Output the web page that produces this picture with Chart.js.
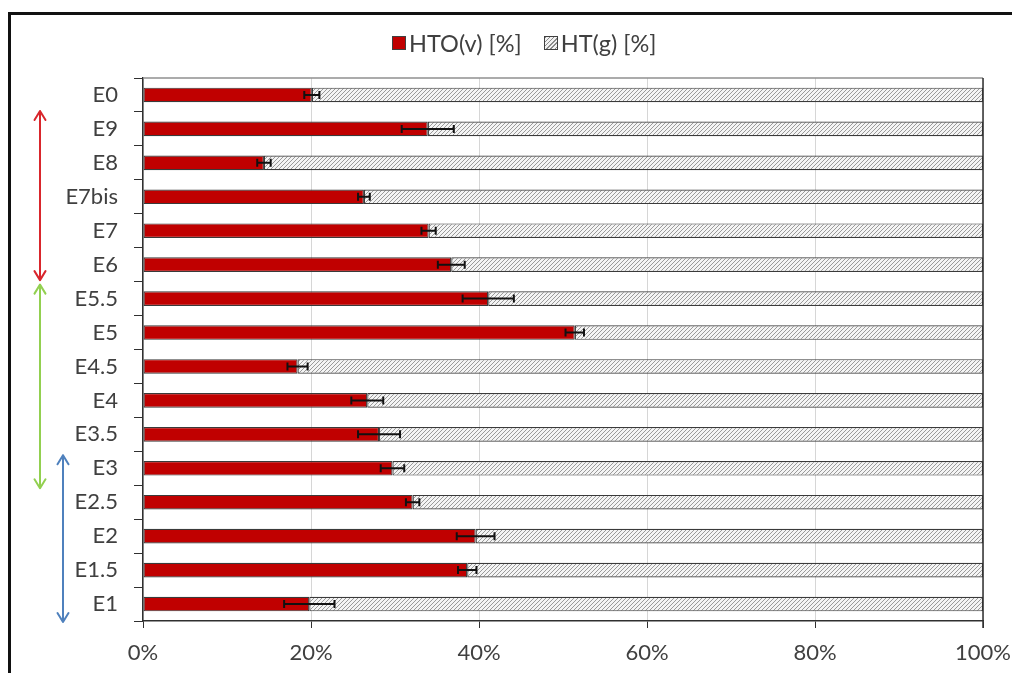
<!DOCTYPE html>
<html>
<head>
<meta charset="utf-8">
<script src="https://cdn.jsdelivr.net/npm/chart.js@4.4.1/dist/chart.umd.min.js"></script>
<style>
  html, body { margin: 0; padding: 0; background: #fff; overflow: hidden; }
  #wrap { position: relative; width: 1012px; height: 673px; overflow: hidden; }
  #frame { position: absolute; left: 8px; top: 12px; width: 2000px; height: 2000px;
           border-left: 3px solid #111; border-top: 3px solid #111; pointer-events: none; }
  #legend { position: absolute; left: 392px; top: 29px; display: flex; align-items: center;
            font-family: Lato, "DejaVu Sans", sans-serif; font-size: 23.5px; color: #404040; white-space: nowrap; }
  .sw { width: 14px; height: 14px; box-sizing: border-box; border: 1px solid #404040; margin-right: 3px; }
  .sw.hto { background: #C00000; }
  .sw.ht { background: repeating-linear-gradient(135deg, #8a8a8a 0 1px, #f2f2f2 1px 3px); }
  .gap { width: 22px; }
</style>
</head>
<body>
<div id="wrap">
  <canvas id="c" width="1012" height="673"></canvas>
  <div id="legend">
    <div class="sw hto"></div><span>HTO(v) [%]</span>
    <div class="gap"></div>
    <div class="sw ht"></div><span>HT(g) [%]</span>
  </div>
  <div id="frame"></div>
</div>
<script>
// Experiments, listed top to bottom
const categories = ['E0', 'E9', 'E8', 'E7bis', 'E7', 'E6', 'E5.5', 'E5', 'E4.5', 'E4', 'E3.5', 'E3', 'E2.5', 'E2', 'E1.5', 'E1'];
// Share of tritium found as HTO (vapour) and as HT (gas), in percent
const htoValues = [20.1, 33.9, 14.4, 26.3, 34.0, 36.7, 41.1, 51.4, 18.4, 26.7, 28.1, 29.7, 32.1, 39.6, 38.6, 19.8];
const htValues  = [79.9, 66.1, 85.6, 73.7, 66.0, 63.3, 58.9, 48.6, 81.6, 73.3, 71.9, 70.3, 67.9, 60.4, 61.4, 80.2];
// Uncertainty on the HTO share (± percent points)
const htoErrors = [0.9, 3.1, 0.8, 0.7, 0.85, 1.6, 3.05, 1.1, 1.2, 1.9, 2.5, 1.4, 0.8, 2.25, 1.1, 3.0];
// Percentage axis tick labels
const xTickLabels = ['0%', '20%', '40%', '60%', '80%', '100%'];
// Groups of experiments marked with double arrows: first and last category of each group
const groupStart = ['E9', 'E5.5', 'E3'];
const groupEnd   = ['E6', 'E3', 'E1'];

// Arrow appearance, one entry per group
const arrowStyle = [
  { color: '#D9262C', x: 40, padTop: -1, padBottom: -1.5 },
  { color: '#92D050', x: 40, padTop: 3,  padBottom: 3 },
  { color: '#4F81BD', x: 63, padTop: 4,  padBottom: 1 }
];

const FONT = 'Lato, "DejaVu Sans", sans-serif';
const TEXT = '#404040';

// Diagonal hatch fill for the HT(g) bars
function makeHatch() {
  const s = 4;
  const p = document.createElement('canvas');
  p.width = s; p.height = s;
  const g = p.getContext('2d');
  g.fillStyle = '#f4f4f4';
  g.fillRect(0, 0, s, s);
  g.strokeStyle = '#9a9a9a';
  g.lineWidth = 1;
  g.beginPath();
  g.moveTo(-1, s + 1); g.lineTo(s + 1, -1);
  g.moveTo(-1, 1); g.lineTo(1, -1);
  g.moveTo(s - 1, s + 1); g.lineTo(s + 1, s - 1);
  g.stroke();
  return g.createPattern(p, 'repeat');
}

// Horizontal error bars at the end of the HTO bars
const errorBars = {
  id: 'errorBars',
  afterDatasetsDraw(chart) {
    const ctx = chart.ctx;
    const xs = chart.scales.x;
    const meta = chart.getDatasetMeta(0);
    ctx.save();
    ctx.strokeStyle = '#111';
    ctx.lineWidth = 2;
    meta.data.forEach((bar, i) => {
      const x1 = xs.getPixelForValue(htoValues[i] - htoErrors[i]);
      const x2 = xs.getPixelForValue(htoValues[i] + htoErrors[i]);
      const y = bar.y;
      ctx.beginPath();
      ctx.moveTo(x1, y); ctx.lineTo(x2, y);
      ctx.moveTo(x1, y - 4); ctx.lineTo(x1, y + 4);
      ctx.moveTo(x2, y - 4); ctx.lineTo(x2, y + 4);
      ctx.stroke();
    });
    ctx.restore();
  }
};

// Plot-area frame: light top edge, dark right edge
const plotFrame = {
  id: 'plotFrame',
  afterDraw(chart) {
    const { ctx, chartArea: a } = chart;
    ctx.save();
    ctx.lineWidth = 1.5;
    ctx.strokeStyle = '#8f8f8f';
    ctx.beginPath(); ctx.moveTo(a.left, a.top); ctx.lineTo(a.right, a.top); ctx.stroke();
    ctx.strokeStyle = '#303030';
    ctx.beginPath(); ctx.moveTo(a.right, a.top); ctx.lineTo(a.right, a.bottom + 7); ctx.stroke();
    ctx.restore();
  }
};

// Double-headed arrows grouping the experiments
const groupArrows = {
  id: 'groupArrows',
  afterDraw(chart) {
    const ctx = chart.ctx;
    const ys = chart.scales.y;
    const half = (ys.getPixelForValue(1) - ys.getPixelForValue(0)) / 2;
    ctx.save();
    ctx.lineWidth = 2;
    ctx.lineCap = 'round';
    ctx.lineJoin = 'round';
    groupStart.forEach((startCat, i) => {
      const st = arrowStyle[i];
      const y1 = ys.getPixelForValue(categories.indexOf(startCat)) - half + st.padTop;
      const y2 = ys.getPixelForValue(categories.indexOf(groupEnd[i])) + half + st.padBottom;
      const x = st.x;
      ctx.strokeStyle = st.color;
      ctx.beginPath();
      ctx.moveTo(x, y1); ctx.lineTo(x, y2);
      ctx.moveTo(x - 5.5, y1 + 9); ctx.lineTo(x, y1); ctx.lineTo(x + 5.5, y1 + 9);
      ctx.moveTo(x - 5.5, y2 - 9); ctx.lineTo(x, y2); ctx.lineTo(x + 5.5, y2 - 9);
      ctx.stroke();
    });
    ctx.restore();
  }
};

new Chart(document.getElementById('c'), {
  type: 'bar',
  data: {
    labels: categories,
    datasets: [
      {
        label: 'HTO(v) [%]',
        data: htoValues,
        backgroundColor: '#C00000',
        borderColor: '#3a3a3a',
        borderWidth: 1.2,
        borderSkipped: false,
        barPercentage: 0.43,
        categoryPercentage: 1
      },
      {
        label: 'HT(g) [%]',
        data: htValues,
        backgroundColor: makeHatch(),
        borderColor: '#3a3a3a',
        borderWidth: 1.2,
        borderSkipped: false,
        barPercentage: 0.43,
        categoryPercentage: 1
      }
    ]
  },
  options: {
    indexAxis: 'y',
    responsive: false,
    animation: false,
    devicePixelRatio: 1,
    layout: { padding: { top: 78, right: 29, left: 0, bottom: 0 } },
    plugins: { legend: { display: false }, tooltip: { enabled: false } },
    scales: {
      x: {
        stacked: true,
        min: 0,
        max: 100,
        ticks: {
          stepSize: 20,
          maxRotation: 0,
          padding: 12,
          color: TEXT,
          font: { family: FONT, size: 22 },
          callback: (v, i) => xTickLabels[i]
        },
        grid: { color: '#d6d6d6', tickColor: '#303030', tickLength: 7, lineWidth: 1 },
        border: { color: '#303030', width: 1.5 },
        afterFit(s) { s.height = 52; s.paddingLeft = 0; s.paddingRight = 0; }
      },
      y: {
        stacked: true,
        ticks: { padding: 16, color: TEXT, font: { family: FONT, size: 22 } },
        grid: { drawOnChartArea: false, offset: true, tickColor: '#303030', tickLength: 9 },
        border: { color: '#303030', width: 1.5 },
        afterFit(s) { s.width = 143; s.paddingTop = 0; s.paddingBottom = 0; }
      }
    }
  },
  plugins: [errorBars, plotFrame, groupArrows]
});
</script>
</body>
</html>
